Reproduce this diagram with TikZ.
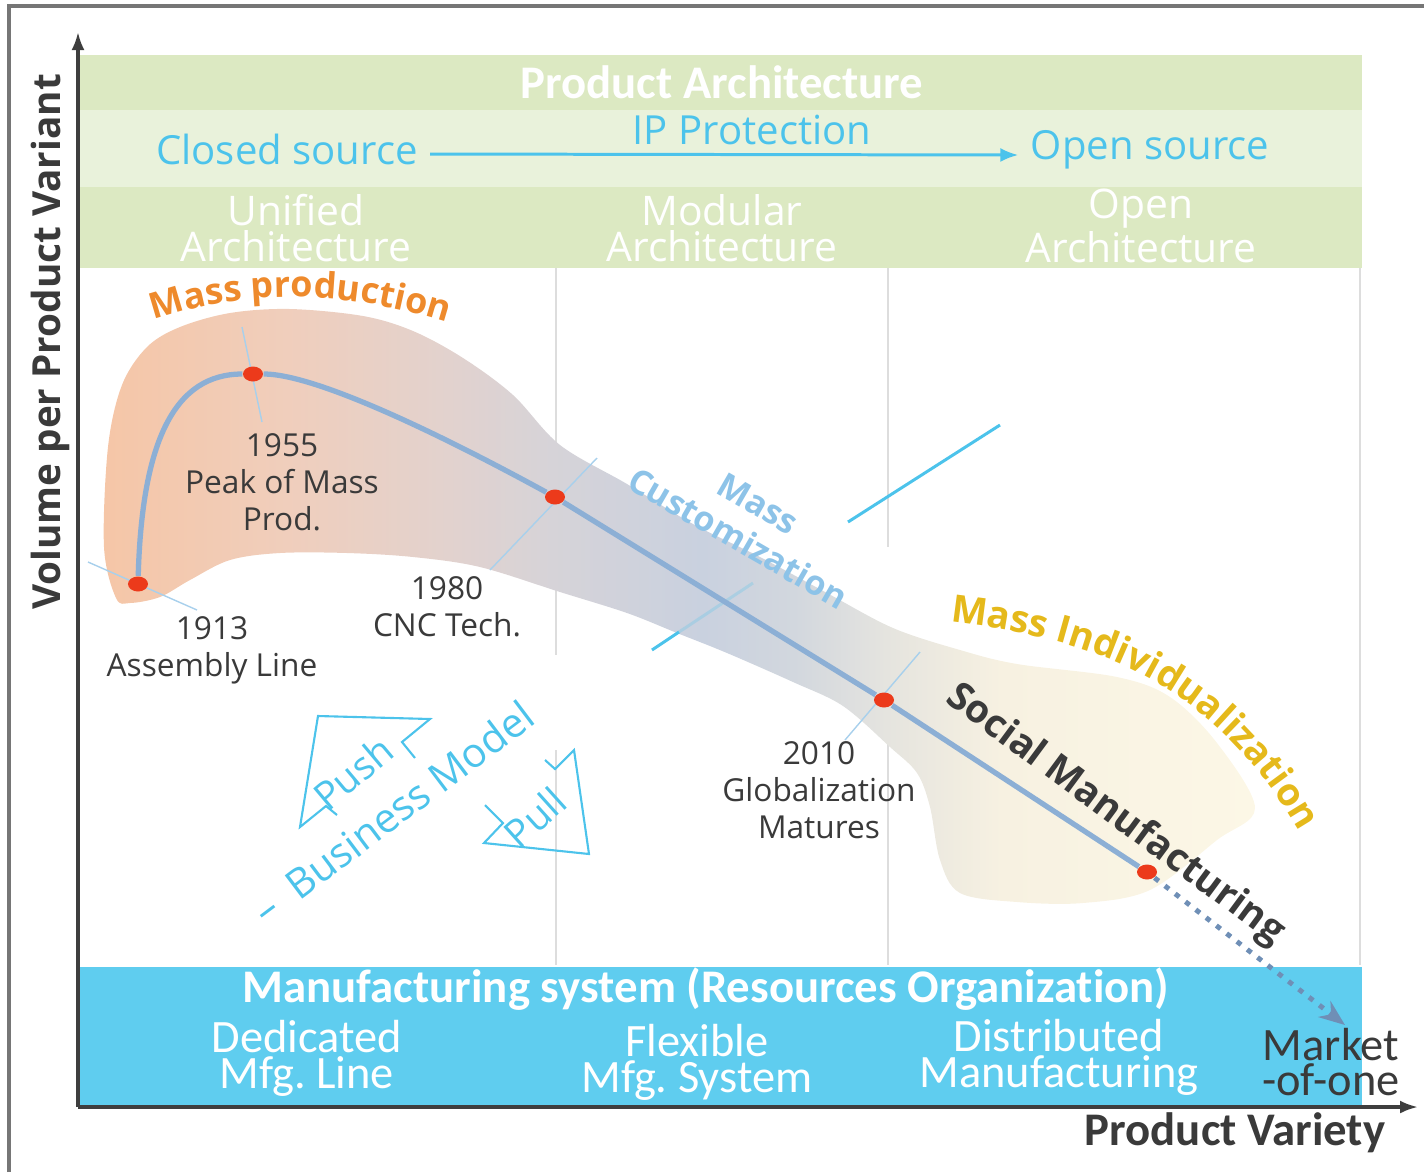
\documentclass[tikz,border=0pt]{standalone}
\usepackage{fontspec}
\setmainfont{Open Sans}
\newfontfamily\calibfont[Ligatures=NoCommon]{Carlito}
\usetikzlibrary{arrows.meta}
\usetikzlibrary{shapes.geometric}
\usetikzlibrary{decorations.text}
\frenchspacing

\definecolor{framegray}{HTML}{767676}
\definecolor{axisgray}{HTML}{3E3E3E}
\definecolor{txtgray}{HTML}{3A3A3A}
\definecolor{bandgreen}{HTML}{DCE9C2}
\definecolor{bandlight}{HTML}{E9F2DB}
\definecolor{bandblue}{HTML}{5FCDEF}
\definecolor{ipblue}{HTML}{4CC3EB}
\definecolor{custblue}{HTML}{8DC3E8}
\definecolor{massorange}{HTML}{EE8A2C}
\definecolor{indivyellow}{HTML}{E5B91B}
\definecolor{dotred}{HTML}{EC3A1B}
\definecolor{trendblue}{HTML}{8CAFD5}
\definecolor{futureblue}{HTML}{6F8FB6}
\definecolor{ticklight}{HTML}{A8D0EC}
\definecolor{divgray}{HTML}{DDDDDD}
\definecolor{peach}{HTML}{F5C6A7}
\definecolor{peachgray}{HTML}{F0CEBC}
\definecolor{rosegray}{HTML}{E2D2CE}
\definecolor{dusk}{HTML}{D6D3D8}
\definecolor{steelmist}{HTML}{C9D1DF}
\definecolor{mist}{HTML}{D2D7DE}
\definecolor{paper}{HTML}{E5E4DF}
\definecolor{cream}{HTML}{F7F1E1}
\definecolor{creamlight}{HTML}{FCF7E6}

\pgfdeclarehorizontalshading{eraband}{100bp}{color(0bp)=(peach); color(25bp)=(peach); color(33bp)=(peachgray); color(40bp)=(rosegray); color(44.5bp)=(dusk); color(51bp)=(steelmist); color(55bp)=(mist); color(59bp)=(paper); color(64bp)=(cream); color(75bp)=(creamlight); color(100bp)=(creamlight)}

\tikzset{
	milestone/.style={shape=ellipse, fill=dotred, minimum width=2mm, minimum height=1.5mm, inner sep=0pt},
	yearlabel/.style={text=txtgray, align=center, font=\fontsize{9}{10.5}\selectfont},
	headtext/.style={text=white, font=\calibfont\bfseries\fontsize{13.3}{14}\selectfont},
	iptext/.style={text=ipblue, font=\fontsize{11.4}{13}\selectfont},
	archtext/.style={text=white, align=center, font=\fontsize{11.6}{10.3}\selectfont},
	mfgtext/.style={text=white, align=center, font=\calibfont\fontsize{13.2}{10.2}\selectfont},
	bmtext/.style={text=ipblue, font=\fontsize{11}{13}\selectfont},
	divider/.style={divgray, line width=0.5pt},
	axisline/.style={axisgray, line width=0.9pt, -{Latex[length=1.8mm,width=1.3mm]}},
	tickline/.style={ticklight, line width=0.4pt},
	bracket/.style={ipblue, line width=0.85pt},
	trend/.style={trendblue, line width=1.5pt},
	bmarrow/.style={ipblue, line width=0.6pt, line join=miter},
}

\begin{document}
\begin{tikzpicture}[x=0.01cm,y=-0.01cm]
	\useasboundingbox (0,0) rectangle (1424,1172);
	\draw[framegray,line width=0.9pt] (9,1172) -- (9,6) -- (1424,6);

	% architecture bands on top, resources band at the bottom
	\fill[bandgreen] (80,55) rectangle (1362,110);
	\fill[bandlight] (80,110) rectangle (1362,187);
	\fill[bandgreen] (80,187) rectangle (1362,268);
	\fill[bandblue] (80,967) rectangle (1362,1107);

	\draw[divider] (556,268) -- (556,655) (556,750) -- (556,965);
	\draw[divider] (888,268) -- (888,547) (888,740) -- (888,965);
	\draw[divider] (1360,268) -- (1360,965);

	\coordinate (origin) at (78,1107);
	\coordinate (ytip) at (78,32);
	\coordinate (xtip) at (1418,1107);
	\draw[axisline] (origin) -- (ytip);
	\draw[axisline] (origin) -- (xtip);

	% the paradigm band
	\shade[shading=eraband] plot[smooth cycle, tension=0.55] coordinates {
		(116,598) (104,547) (108,447) (122,385) (147,347) (180,327) (230,313) (290,309)
		(363,316) (413,331) (463,358) (513,395) (560,445) (627,484) (693,524) (760,557)
		(827,593) (893,628) (960,650) (1017,664) (1117,677) (1170,697) (1217,743) (1255,808)
		(1217,840) (1150,890) (1083,903) (1017,902) (960,893) (940,860) (930,807) (917,773)
		(890,747) (843,706) (793,682) (727,653) (677,633) (627,613) (560,592) (480,567)
		(413,557) (347,553) (280,553) (230,560) (190,580) (160,597) (130,603)};

	\draw[bracket] (848,522) -- (1000,425);
	\draw[bracket] (652,650) -- (679,632);
	\draw[bracket,opacity=0.25] (679,632) -- (753,583);

	\draw[tickline] (88,562) -- (197,610);
	\draw[tickline] (242,327) -- (262,422);
	\draw[tickline] (490,570) -- (597,458);
	\draw[tickline] (845,740) -- (920,652);

	\node[milestone] (d1913) at (138,584) {};
	\node[milestone] (d1955) at (253,374) {};
	\node[milestone] (d1980) at (555,497) {};
	\node[milestone] (d2010) at (884,700) {};
	\node[milestone] (dnow) at (1147,872) {};
	\draw[trend] (d1913) .. controls (142,440) and (175,374) .. (d1955);
	\draw[trend] (d1955) .. controls (320,374) and (460,445) .. (d1980);
	\draw[trend] (d1980) -- (d2010) -- (dnow);
	\coordinate (oneend) at (1345,1025);
	\draw[futureblue, line width=1.4pt, dash pattern=on 1.5pt off 2.2pt, -{Stealth[length=2.6mm,width=2mm]}] (dnow) -- (oneend);

	\node[yearlabel] (l1913) at (212,650) {1913\\Assembly Line};
	\node[yearlabel] (l1955) at (282,482) {1955\\Peak of Mass\\Prod.};
	\node[yearlabel] (l1980) at (447,607) {1980\\CNC Tech.};
	\node[yearlabel] (l2010) at (819,790) {2010\\Globalization\\Matures};

	\path[decorate, decoration={text along path, text color=massorange,
		text={|\fontsize{10.2}{12}\selectfont\bfseries|Mass production}}]
		(154,320) .. controls (250,288) and (350,288) .. (470,330);
	\path[decorate, decoration={text along path, text color=indivyellow,
		text={|\fontsize{10.8}{12}\selectfont\bfseries|Mass Individualization}}]
		(950,622) .. controls (1110,640) and (1230,690) .. (1320,870);
	\node[text=custblue, align=center, rotate=-30, font=\fontsize{9.7}{11.4}\selectfont\bfseries] (masscust) at (748,521) {Mass\\Customization};
	\node[text=txtgray, rotate=-36.5, font=\fontsize{11}{13}\selectfont\bfseries] (social) at (1115,815) {Social Manufacturing};

	% push / pull business model
	\node[bmtext, rotate=37, font=\fontsize{11.6}{13}\selectfont] (bmodel) at (393,812) {–\hspace{0.5em}Business Model};
	\node[bmtext, rotate=40] (push) at (353,773) {Push};
	\node[bmtext, rotate=42] (pull) at (535,817) {Pull};
	\draw[bmarrow] (415,758) -- (402,742) -- (430,719) -- (318,716) -- (300,827) -- (326,806) -- (337,815);
	\draw[bmarrow] (545,760) -- (555,769) -- (574,750) -- (589,854) -- (484,843) -- (503,823) -- (485,805);

	\node[headtext] (parch) at (722,82) {Product Architecture};
	\node[iptext] (ipprot) at (752,130) {IP Protection};
	\node[iptext] (closed) at (287,149) {Closed source};
	\node[iptext] (open) at (1150,150) {Open source};
	\draw[ipblue, line width=0.85pt, -{Latex[length=1.8mm,width=1.4mm]}] ([yshift=-0.5mm]closed.east) -- ([yshift=-0.5mm]open.west);
	\node[archtext] (unified) at (296,228) {Unified\\Architecture};
	\node[archtext] (modular) at (722,228) {Modular\\Architecture};
	\node[archtext] (openarch) at (1141,226) {Open\\Architecture};

	\node[headtext] (mfgsys) at (706,989) {Manufacturing system (Resources Organization)};
	\node[mfgtext] (dedicated) at (307,1058) {Dedicated\\Mfg. Line};
	\node[mfgtext] (flexible) at (697,1062) {Flexible\\Mfg. System};
	\node[mfgtext] (distributed) at (1059,1057) {Distributed\\Manufacturing};
	\node[mfgtext, text=txtgray] (market) at (1331,1062) {Market\\-of-one};

	\node[headtext, text=txtgray] (xlabel) at (1235,1133) {Product Variety};
	\node[text=txtgray, rotate=90, font=\fontsize{11}{13}\selectfont\bfseries] (ylabel) at (50,342) {Volume per Product Variant};
\end{tikzpicture}
\end{document}
